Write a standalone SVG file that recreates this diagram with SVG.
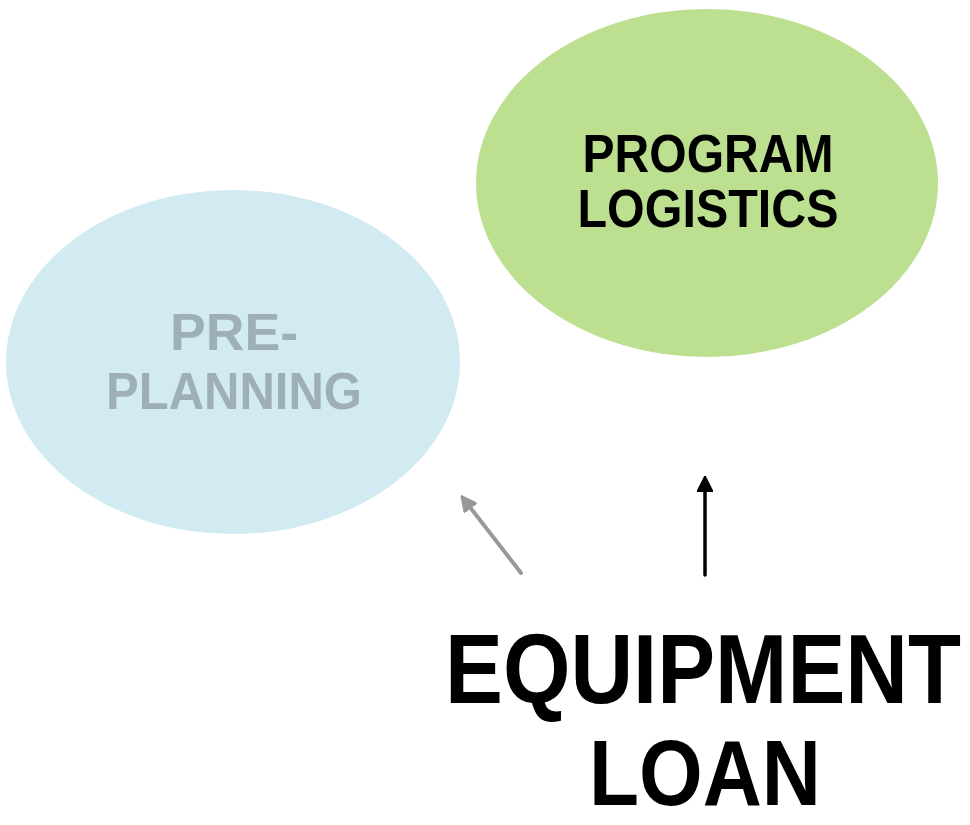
<svg xmlns="http://www.w3.org/2000/svg" width="970" height="825" viewBox="0 0 970 825">
<style>
.t{font-family:"Liberation Sans",Arial,sans-serif;font-weight:bold;text-anchor:middle}
</style>
<defs>
<marker id="hg" viewBox="0 0 10 10" refX="5" refY="5" markerWidth="4" markerHeight="4" orient="auto"><path d="M0,0 L10,5 L0,10 z" fill="#999999" stroke="#999999" stroke-linejoin="round"/></marker>
<marker id="hb" viewBox="0 0 10 10" refX="5" refY="5" markerWidth="4.5" markerHeight="4.5" orient="auto"><path d="M0,0 L10,5 L0,10 z" fill="#000" stroke="#000" stroke-linejoin="round"/></marker>
</defs>
<rect width="970" height="825" fill="#ffffff"/>
<g id="pre-planning">
<ellipse cx="233" cy="362" rx="227" ry="172" fill="#d2eaf1"/>
<text class="t" x="234" y="350" font-size="52" fill="#9eb0b5" textLength="128" lengthAdjust="spacingAndGlyphs">PRE-</text>
<text class="t" x="234" y="409" font-size="52" fill="#9eb0b5" textLength="256" lengthAdjust="spacingAndGlyphs">PLANNING</text>
</g>
<g id="program-logistics">
<ellipse cx="707" cy="183" rx="231" ry="174" fill="#bde090"/>
<text class="t" x="708" y="172" font-size="54" fill="#000" textLength="251" lengthAdjust="spacingAndGlyphs">PROGRAM</text>
<text class="t" x="708" y="227" font-size="54" fill="#000" textLength="261" lengthAdjust="spacingAndGlyphs">LOGISTICS</text>
</g>
<g id="equipment-loan">
<text class="t" transform="translate(703,703) scale(1,1.12)" x="0" y="0" font-size="87" fill="#000" textLength="516" lengthAdjust="spacingAndGlyphs">EQUIPMENT</text>
<text class="t" x="705" y="805" font-size="92" fill="#000" textLength="232" lengthAdjust="spacingAndGlyphs">LOAN</text>
</g>
<g id="connectors" fill="none" stroke-linecap="round">
<line x1="521" y1="573" x2="466" y2="502" stroke="#999999" stroke-width="4" marker-end="url(#hg)"/>
<line x1="705" y1="575" x2="705" y2="484" stroke="#000" stroke-width="3.5" marker-end="url(#hb)"/>
</g>
</svg>
